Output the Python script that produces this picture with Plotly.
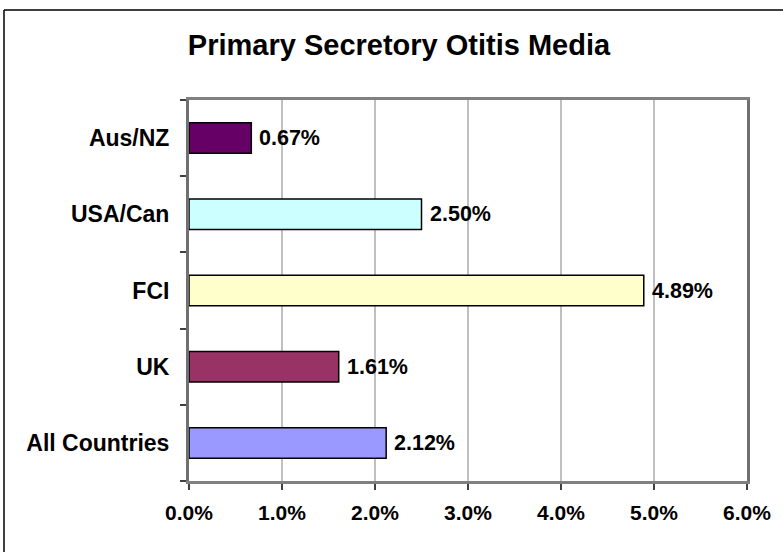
import plotly.graph_objects as go

categories = ["Aus/NZ", "USA/Can", "FCI", "UK", "All Countries"]
values = [0.67, 2.50, 4.89, 1.61, 2.12]
colors = ["#660066", "#CCFFFF", "#FFFFCC", "#993366", "#9999FF"]
x_ticks = [0, 1, 2, 3, 4, 5, 6]
x_tick_labels = ["0.0%", "1.0%", "2.0%", "3.0%", "4.0%", "5.0%", "6.0%"]
title_text = "Primary Secretory Otitis Media"

FONT = "Liberation Sans, Arial, sans-serif"
W, H = 783, 552
L, R, T, B = 189, 36, 100, 71

fig = go.Figure()
fig.add_trace(go.Bar(
    y=categories, x=values, orientation="h",
    marker=dict(color=colors, line=dict(color="#000000", width=1.5)),
    width=0.4,
    hoverinfo="skip",
))

for c, v in zip(categories, values):
    fig.add_annotation(
        x=v, y=c, xref="x", yref="y", text=f"<b>{v:.2f}%</b>",
        showarrow=False, xanchor="left", yanchor="middle", xshift=6,
        font=dict(family=FONT, size=21.5, color="#000000"),
    )

pw = W - L - R
ph = H - T - B
bx = (4 - L) / pw
by = (H - B - 10) / ph
fig.add_shape(type="line", xref="paper", yref="paper", x0=bx, y0=-0.3, x1=bx, y1=by,
              line=dict(color="#000000", width=1.5))
fig.add_shape(type="line", xref="paper", yref="paper", x0=bx, y0=by, x1=1.2, y1=by,
              line=dict(color="#000000", width=1.5))

fig.update_layout(
    width=W, height=H,
    margin=dict(l=L, r=R, t=T, b=B),
    paper_bgcolor="#FFFFFF", plot_bgcolor="#FFFFFF",
    showlegend=False,
    title=dict(text=f"<b>{title_text}</b>", x=399 / W, xanchor="center",
               y=1 - 45 / H, yanchor="middle",
               font=dict(family=FONT, size=29, color="#000000")),
    xaxis=dict(range=[0, 6], tickvals=x_ticks, ticktext=[f"<b>{t}</b>" for t in x_tick_labels],
               showgrid=True, gridcolor="#C0C0C0", gridwidth=1.5,
               showline=True, linecolor="#808080", linewidth=3, mirror=True,
               ticks="outside", ticklen=6, tickcolor="#404040", tickwidth=1.5,
               ticklabelstandoff=5,
               tickfont=dict(family=FONT, size=21, color="#000000"),
               zeroline=False, fixedrange=True),
    yaxis=dict(type="category", categoryorder="array", categoryarray=categories,
               autorange="reversed", tickson="boundaries",
               showgrid=False,
               showline=True, linecolor="#707070", linewidth=3, mirror=True,
               ticks="outside", ticklen=6, tickcolor="#404040", tickwidth=1.5,
               ticklabelstandoff=12,
               tickvals=categories, ticktext=[f"<b>{c}</b>" for c in categories],
               tickfont=dict(family=FONT, size=23, color="#000000"),
               fixedrange=True),
)

fig.write_html("out.html", config={"displayModeBar": False},
               post_script="document.body.style.margin='0';")
